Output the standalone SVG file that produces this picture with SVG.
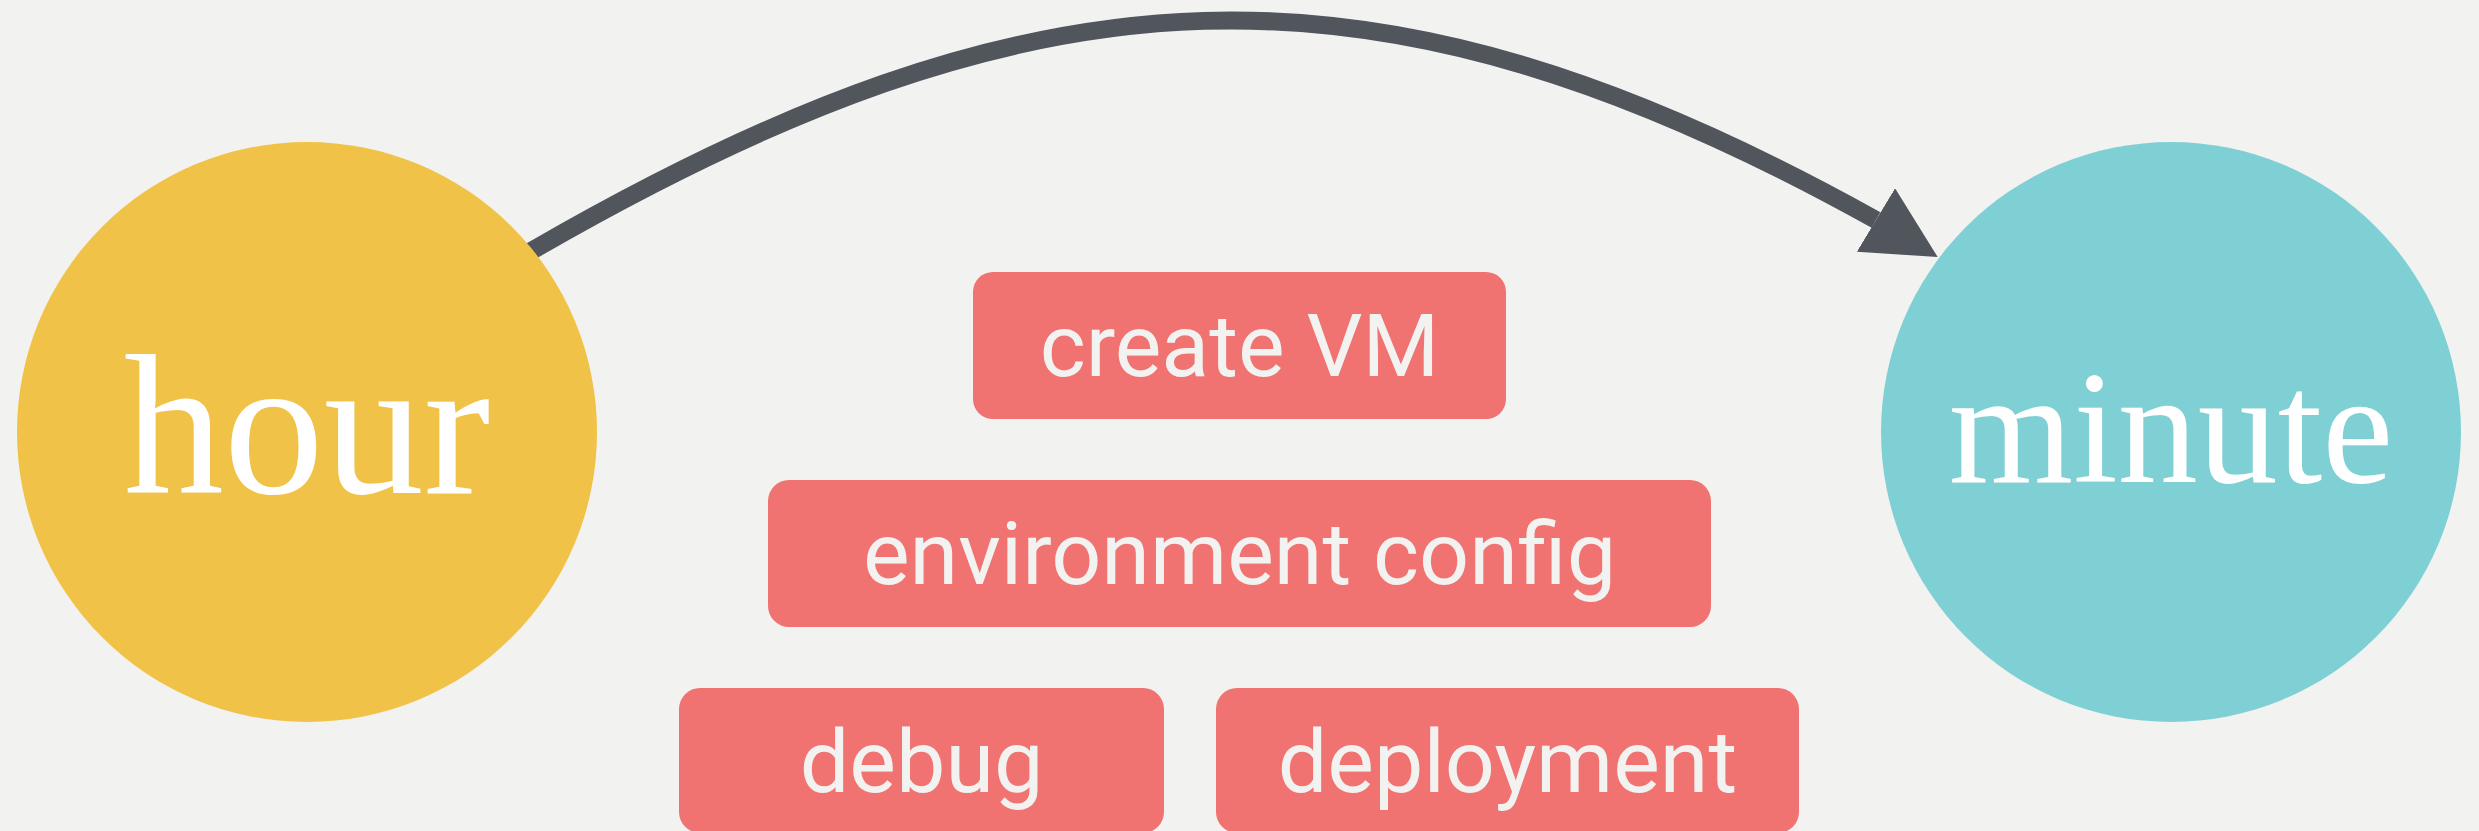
<svg xmlns="http://www.w3.org/2000/svg" width="2479" height="831" viewBox="0 0 2479 831">
  <defs>
    <style>
      .bg { fill: #f2f2f0; }
      .task { fill: #f07271; }
      .task-label { font-family: Roboto, "Liberation Sans", sans-serif; font-size: 88px; fill: #f2f2f0; text-anchor: middle; }
      .unit-label { font-family: "Liberation Serif", "DejaVu Serif", serif; fill: #ffffff; text-anchor: middle; }
      .edge { fill: none; stroke: #51565d; stroke-width: 18; }
    </style>
    <marker id="arrow" markerUnits="userSpaceOnUse" viewBox="0 0 72 74" refX="0" refY="37" markerWidth="72" markerHeight="74" orient="31">
      <path d="M0,0 L72,37 L0,74 Z" fill="#51565d"/>
    </marker>
  </defs>
  <rect class="bg" x="0" y="0" width="2479" height="831"/>

  <g id="connectors">
    <path class="edge" d="M520,258 L533,250 C1035,-40 1372,-61 1876,220" marker-end="url(#arrow)"/>
  </g>

  <g id="node-hour">
    <circle cx="307" cy="432" r="290" fill="#f0c247"/>
    <text class="unit-label" x="307" y="493" font-size="200">hour</text>
  </g>

  <g id="node-minute">
    <circle cx="2171" cy="432" r="290" fill="#7fd0d4"/>
    <text class="unit-label" x="2171" y="482" font-size="160">minute</text>
  </g>

  <g id="node-create-vm">
    <rect class="task" x="973" y="272" width="533" height="147" rx="20" ry="20"/>
    <text class="task-label" x="1239.5" y="376">create VM</text>
  </g>

  <g id="node-environment-config">
    <rect class="task" x="768" y="480" width="943" height="147" rx="21" ry="21"/>
    <text class="task-label" x="1239.5" y="584">environment config</text>
  </g>

  <g id="node-debug">
    <rect class="task" x="679" y="688" width="485" height="145" rx="21" ry="21"/>
    <text class="task-label" x="921.5" y="792">debug</text>
  </g>

  <g id="node-deployment">
    <rect class="task" x="1216" y="688" width="583" height="145" rx="21" ry="21"/>
    <text class="task-label" x="1507.5" y="792">deployment</text>
  </g>
</svg>
